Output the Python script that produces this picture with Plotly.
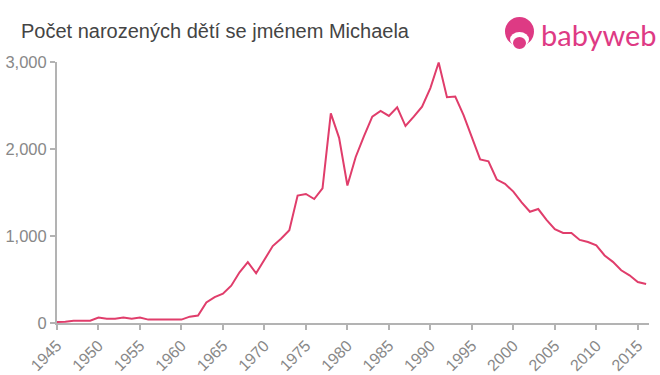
import plotly.graph_objects as go

years = list(range(1945, 2017))
counts = [12, 14, 27, 27, 27, 62, 50, 50, 62, 50,
          62, 39, 39, 39, 39, 39, 73, 85, 236, 297,
          336, 429, 583, 699, 571, 722, 884, 969, 1066, 1464,
          1483, 1425, 1549, 2410, 2128, 1580, 1908, 2148, 2372, 2437,
          2380, 2480, 2264, 2372, 2487, 2700, 2995, 2596, 2603, 2390,
          2140, 1881, 1858, 1649, 1599, 1510, 1387, 1279, 1310, 1186,
          1078, 1035, 1035, 955, 931, 892, 776, 703, 606, 548,
          471, 448]
x_ticks = list(range(1945, 2016, 5))
y_ticks = [0, 1000, 2000, 3000]

title_text = "Počet narozených dětí se jménem Michaela"
brand = "babyweb"
pink = "#de3a84"
axis_col = "#b3b3b3"
label_col = "#888888"


def px_x(p):
    return (p - 57) / 592


def px_y(p):
    return (323 - p) / 261


fig = go.Figure()
fig.add_trace(go.Scatter(x=years, y=counts, mode="lines",
                         line=dict(color="#e03d6b", width=2), hoverinfo="x+y"))

fig.update_layout(
    width=660, height=375,
    margin=dict(l=57, r=11, t=62, b=52),
    paper_bgcolor="white", plot_bgcolor="white",
    showlegend=False,
    font=dict(family="Liberation Sans, Arial, sans-serif"),
    xaxis=dict(range=[1945, 2016.35], tickvals=x_ticks, ticktext=[str(v) for v in x_ticks],
               tickangle=-45, showgrid=False, zeroline=False, automargin=False,
               showline=True, linecolor=axis_col, linewidth=2,
               ticks="outside", ticklen=5, tickcolor=axis_col, tickwidth=2,
               tickfont=dict(size=16, color=label_col)),
    yaxis=dict(range=[0, 3000], tickvals=y_ticks, tickformat=",d",
               showgrid=False, zeroline=False, automargin=False,
               showline=True, linecolor=axis_col, linewidth=2,
               ticks="outside", ticklen=5, tickcolor=axis_col, tickwidth=2,
               tickfont=dict(size=16.5, color=label_col)),
    annotations=[
        dict(text=title_text, xref="paper", yref="paper", x=px_x(19), y=px_y(31),
             xanchor="left", yanchor="middle", showarrow=False,
             font=dict(size=20, color="#444444")),
        dict(text=brand, xref="paper", yref="paper", x=px_x(659), y=px_y(34),
             xanchor="right", yanchor="middle", showarrow=False,
             font=dict(size=29, color=pink, family="Lato, Liberation Sans, sans-serif")),
    ],
    shapes=[
        dict(type="circle", xref="paper", yref="paper",
             x0=px_x(505), x1=px_x(534), y0=px_y(46), y1=px_y(17),
             fillcolor=pink, line=dict(width=0)),
        dict(type="circle", xref="paper", yref="paper",
             x0=px_x(510), x1=px_x(529), y0=px_y(47), y1=px_y(32),
             fillcolor="white", line=dict(width=0)),
        dict(type="circle", xref="paper", yref="paper",
             x0=px_x(513), x1=px_x(526), y0=px_y(49), y1=px_y(37),
             fillcolor=pink, line=dict(width=0)),
    ],
)

fig.write_html("out.html")
